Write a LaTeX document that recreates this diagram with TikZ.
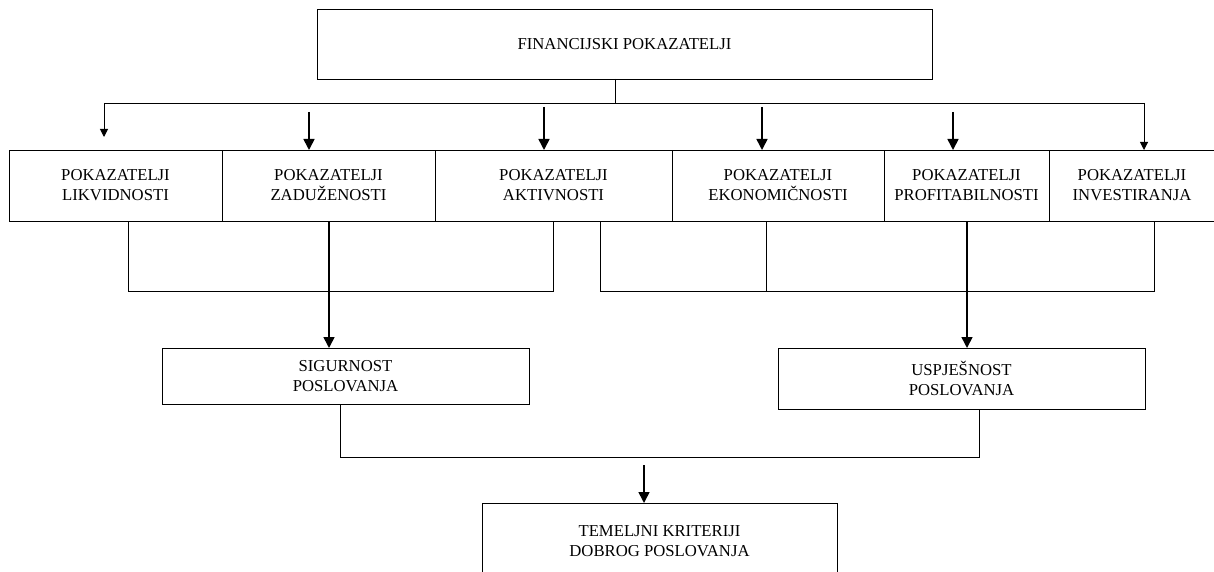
\documentclass[tikz,border=0pt]{standalone}
\usepackage{fontspec}
\setmainfont{Liberation Serif}
\usetikzlibrary{arrows.meta}
\begin{document}
\begin{tikzpicture}[x=1pt,y=-1pt,
  box/.style={draw, line width=0.9pt, rectangle, inner sep=0pt, outer sep=0pt, align=center,
              font=\fontsize{16.7}{20}\selectfont},
  bigarrow/.style={line width=1.6pt, -{Triangle[length=11pt,width=11pt]}},
  smallarrow/.style={line width=1pt, -{Triangle[length=8pt,width=8pt]}},
  link/.style={line width=0.9pt}]
\useasboundingbox (0,0) rectangle (1214,572);

% top box
\node[box, minimum width=615pt, minimum height=70pt] (fin) at (624.5,44) {FINANCIJSKI POKAZATELJI};

% row of indicator boxes
\node[box, minimum width=213pt, minimum height=71pt] (b1) at (115.5,185.5) {POKAZATELJI\\LIKVIDNOSTI};
\node[box, minimum width=213pt, minimum height=71pt] (b2) at (328.5,185.5) {POKAZATELJI\\ZADUŽENOSTI};
\node[box, minimum width=237pt, minimum height=71pt] (b3) at (553.5,185.5) {POKAZATELJI\\AKTIVNOSTI};
\node[box, minimum width=212pt, minimum height=71pt] (b4) at (778,185.5) {POKAZATELJI\\EKONOMIČNOSTI};
\node[box, minimum width=165pt, minimum height=71pt] (b5) at (966.5,185.5) {POKAZATELJI\\PROFITABILNOSTI};
\node[box, minimum width=166pt, minimum height=71pt] (b6) at (1132,185.5) {POKAZATELJI\\INVESTIRANJA};

% middle boxes
\node[box, minimum width=367pt, minimum height=56pt] (sig) at (345.5,376) {SIGURNOST\\POSLOVANJA};
\node[box, minimum width=367pt, minimum height=61pt] (usp) at (961.5,378.5) {USPJEŠNOST\\POSLOVANJA};

% bottom box
\node[box, minimum width=355pt, minimum height=76pt] (tem) at (659.5,541) {TEMELJNI KRITERIJI\\DOBROG POSLOVANJA};

% distribution line from top box
\coordinate (hj) at (615,103);
\coordinate (hl) at (104,103);
\coordinate (hr) at (1144,103);
\draw[link] (fin.south -| hj) -- (hj);
\draw[link] (hl) -- (hr);
\coordinate (a1) at (104,137);
\draw[smallarrow] (hl) -- (a1);
\draw[smallarrow] (hr) -- (b6.north -| hr);
\coordinate (s2) at (309,112);
\coordinate (s3) at (544,107);
\coordinate (s4) at (762,107);
\coordinate (s5) at (953,112);
\draw[bigarrow] (s2) -- (b2.north -| s2);
\draw[bigarrow] (s3) -- (b3.north -| s3);
\draw[bigarrow] (s4) -- (b4.north -| s4);
\draw[bigarrow] (s5) -- (b5.north -| s5);

% left bracket
\coordinate (lb1) at (128,291);
\coordinate (lb2) at (553,291);
\draw[link] (b1.south -| lb1) -- (lb1) -- (lb2) -- (b3.south -| lb2);
\coordinate (ax) at (329,0);
\draw[bigarrow] (b2.south -| ax) -- (sig.north -| ax);

% right bracket
\coordinate (rb1) at (600,291);
\coordinate (rb2) at (766,291);
\coordinate (rb3) at (1154,291);
\draw[link] (b3.south -| rb1) -- (rb1) -- (rb3) -- (b6.south -| rb3);
\draw[link] (b4.south -| rb2) -- (rb2);
\coordinate (bx) at (967,0);
\draw[bigarrow] (b5.south -| bx) -- (usp.north -| bx);

% bottom bracket
\coordinate (bb1) at (340,457);
\coordinate (bb2) at (979,457);
\draw[link] (sig.south -| bb1) -- (bb1) -- (bb2) -- (usp.south -| bb2);
\coordinate (s7) at (644,465);
\draw[bigarrow] (s7) -- (tem.north -| s7);
\end{tikzpicture}
\end{document}
